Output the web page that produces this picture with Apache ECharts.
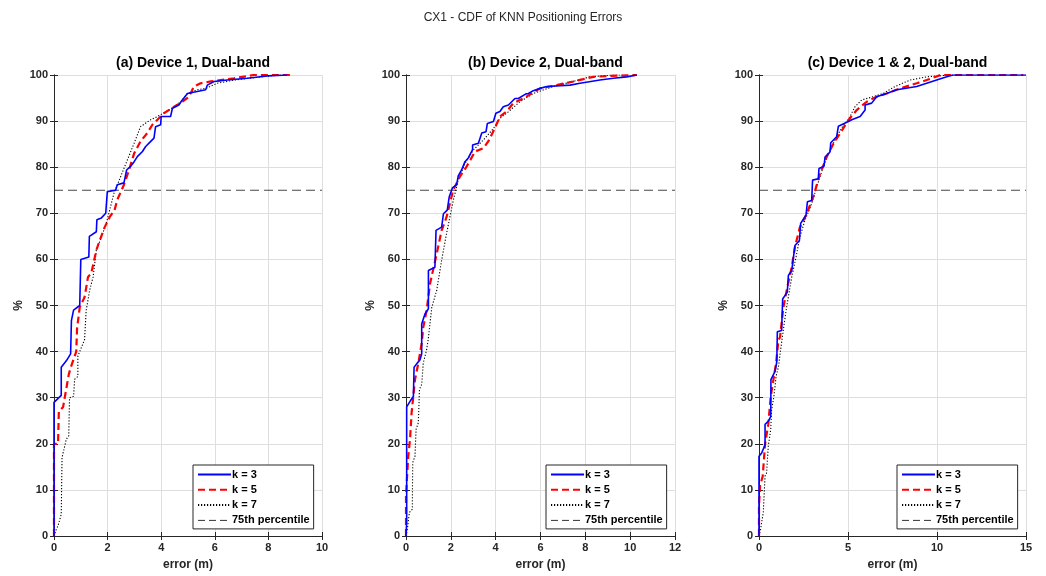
<!DOCTYPE html>
<html>
<head>
<meta charset="utf-8">
<script src="https://cdn.jsdelivr.net/npm/echarts@6/dist/echarts.min.js"></script>
<style>
  html, body { margin: 0; padding: 0; background: #fff; }
  #chart { width: 1046px; height: 576px; }
</style>
</head>
<body>
<div id="chart"></div>
<script>
// panel titles and axis ranges
const panelTitles = ['(a) Device 1, Dual-band', '(b) Device 2, Dual-band', '(c) Device 1 & 2, Dual-band'];
const xMaxes = [10, 12, 15];
const xSteps = [2, 2, 5];
const seriesNames = ['k = 3', 'k = 5', 'k = 7', '75th percentile'];
const pct75 = 75;

// (a) Device 1 - [error (m), %]
const aK3 = [[0,0],[0,29],[0.27,30.5],[0.27,36.6],[0.46,38],[0.62,39.5],[0.65,46.7],[0.73,49],[0.96,50],[1.0,60],[1.3,60.5],[1.32,65],[1.58,66],[1.6,68.6],[1.77,69],[1.93,70],[1.99,74.7],[2.3,75],[2.36,76.2],[2.61,76.6],[2.71,79.4],[2.86,80.2],[2.99,81.2],[3.11,82.3],[3.3,83.4],[3.42,84.5],[3.61,85.6],[3.73,86.3],[3.79,88.8],[3.98,89.2],[4.0,91],[4.35,91],[4.42,92.8],[4.66,93.5],[4.79,94.6],[4.98,96],[5.66,96.8],[5.72,97.8],[5.97,98.6],[6.47,98.9],[7.21,99.3],[7.96,99.8],[8.7,100]];
const aK5 = [[0,0],[0,20],[0.15,20],[0.18,27],[0.34,28],[0.4,30],[0.55,35],[0.62,36.5],[0.83,40],[0.86,45],[0.96,49.6],[1.14,51.8],[1.27,56.2],[1.39,57],[1.58,62],[1.7,64],[1.89,67],[2.08,69.2],[2.26,70.7],[2.36,72.9],[2.61,76.2],[2.8,79.4],[2.99,83],[3.23,85.6],[3.48,87.4],[3.67,89.2],[4.1,91.7],[4.48,93.1],[4.79,94.2],[5.04,95.3],[5.22,97.5],[5.47,98.2],[5.85,98.6],[6.72,99.3],[7.46,100],[8.9,100]];
const aK7 = [[0,0],[0.09,1.5],[0.15,2.2],[0.27,4.7],[0.3,17],[0.46,21],[0.55,21.7],[0.58,30],[0.73,30.3],[0.77,34],[0.89,34.6],[0.89,39],[1.14,42.6],[1.2,48.9],[1.33,53.3],[1.46,56.2],[1.58,62],[1.77,64.9],[1.95,67.8],[2.24,74.4],[2.49,78],[2.74,81.6],[2.99,85.2],[3.23,88.8],[3.61,90.3],[3.86,91],[4.29,92.4],[4.73,94.2],[4.98,96],[5.35,96.8],[5.66,97.1],[6.09,98.2],[6.72,98.9],[7.71,99.6],[8.46,100]];

// (b) Device 2
const bK3 = [[0,0],[0.03,3],[0.03,28],[0.18,29.2],[0.33,30.3],[0.36,36.6],[0.5,37.5],[0.62,38.2],[0.7,39.5],[0.7,46],[0.85,48.2],[1.0,49.3],[1.0,57.6],[1.29,58.3],[1.34,66.3],[1.59,67],[1.67,69.9],[1.84,70.7],[1.93,73.6],[2.07,75.5],[2.26,76.2],[2.33,78.1],[2.48,79.4],[2.63,81.2],[2.78,82],[2.97,83.8],[2.97,84.8],[3.23,85.2],[3.38,87.4],[3.57,87.7],[3.63,89.5],[3.9,89.9],[4.01,91.7],[4.19,92.1],[4.34,93.1],[4.57,93.5],[4.64,93.9],[4.86,94.9],[5.01,94.9],[5.35,95.9],[5.46,96],[5.68,96.6],[5.98,97.1],[6.28,97.5],[7.32,97.8],[7.76,98.2],[8.65,98.9],[9.25,99.3],[9.84,99.6],[10.3,100]];
const bK5 = [[0,0],[0,8.7],[0.1,17.3],[0.18,21],[0.25,26.7],[0.4,33.9],[0.55,37.5],[0.7,41.8],[0.77,45.3],[0.92,48.9],[1.07,54.7],[1.37,61.2],[1.59,66.3],[1.81,69.2],[1.99,72.8],[2.11,75.1],[2.41,78],[2.71,80.2],[3.08,83.4],[3.45,84.1],[3.67,85.6],[3.97,88.5],[4.19,91],[4.49,92.1],[4.79,93.9],[5.23,94.9],[5.98,97.1],[6.72,97.8],[7.46,98.6],[8.36,99.6],[9.1,99.8],[10.3,100]];
const bK7 = [[0,0],[0.06,1.5],[0.15,5.1],[0.28,5.8],[0.3,15.9],[0.4,17.3],[0.45,23.1],[0.55,24.6],[0.6,31.8],[0.7,32.9],[0.77,37.5],[0.92,40.4],[1.0,43],[1.15,49.6],[1.37,53.3],[1.59,59.8],[1.78,64.9],[1.93,68.5],[2.11,72.8],[2.33,77.2],[2.63,80.8],[3.0,83.7],[3.45,85.9],[3.9,88.4],[4.19,90.6],[4.56,92],[5.08,94.2],[5.68,96],[6.57,97.5],[7.46,98.6],[8.2,99.6],[9.25,100],[9.8,100]];

// (c) Device 1 & 2
const cK3 = [[0,0],[0,17.3],[0.15,18],[0.34,19.8],[0.34,24.2],[0.52,24.9],[0.66,25.9],[0.67,33.9],[0.9,35.7],[1.0,37.8],[1.03,44.3],[1.27,44.6],[1.33,51.4],[1.59,52.9],[1.65,56.5],[1.84,57.6],[2.02,63],[2.27,64.1],[2.34,67.8],[2.64,69.6],[2.72,72.5],[2.96,72.8],[3.01,77.2],[3.33,77.5],[3.37,79.7],[3.65,80.2],[3.71,82.2],[3.99,83.3],[4.03,85.3],[4.36,86.6],[4.46,88.9],[5.02,89.9],[5.21,90.3],[5.68,91],[5.96,92.4],[5.96,93.5],[6.33,93.9],[6.61,95.3],[7.17,96],[7.74,96.8],[8.86,97.5],[9.42,98.2],[9.98,98.9],[10.55,99.6],[10.9,100],[15,100]];
const cK5 = [[0,0],[0,6.6],[0.06,10.9],[0.21,13],[0.34,19.9],[0.52,24.2],[0.66,30.3],[0.81,33.9],[0.96,37.5],[1.09,42.5],[1.18,43.1],[1.37,49.6],[1.59,54],[1.84,58.3],[2.02,62.7],[2.3,67],[2.68,69.9],[3.05,73.6],[3.43,78.6],[3.8,82.2],[4.18,85.1],[4.55,87.3],[5.02,90.2],[5.49,92.4],[6.05,94.2],[6.61,95.3],[7.17,96],[7.92,97.1],[8.86,98.2],[9.42,98.9],[10.2,100],[14.85,100]];
const cK7 = [[0,0],[0.09,1.5],[0.24,5.1],[0.34,13],[0.43,13.7],[0.52,19.5],[0.66,23.1],[0.71,27.4],[0.84,30.3],[0.96,34.6],[1.09,36.7],[1.27,42],[1.52,48.9],[1.84,56.2],[2.08,60.5],[2.3,64.9],[2.58,68.5],[2.96,72.1],[3.24,75.7],[3.61,80.1],[3.99,83.7],[4.36,86.6],[4.74,89.1],[5.02,90.3],[5.39,93.1],[5.77,94.6],[6.42,95.3],[6.98,96],[7.64,97.5],[8.48,98.9],[9.42,99.6],[10.7,100],[11.5,100]];

const panelData = [[aK3, aK5, aK7], [bK3, bK5, bK7], [cK3, cK5, cK7]];

const chart = echarts.init(document.getElementById('chart'));

const axisColor = '#262626';
const fontFamily = "'Liberation Sans', Arial, Helvetica, sans-serif";
const gridLefts = [54, 406, 759];
const gridWidths = [268, 269, 267];
const gridTop = 75;
const gridHeight = 462;

const grids = [];
const xAxes = [];
const yAxes = [];
const series = [];
const titles = [{
  text: 'CX1 - CDF of KNN Positioning Errors',
  left: 'center',
  top: 7,
  textStyle: { fontSize: 12, fontWeight: 'normal', color: axisColor, fontFamily }
}];
const legends = [];

const lineStyles = [
  { color: '#0000ff', width: 1.6, type: 'solid' },
  { color: '#ff0000', width: 2.2, type: [7, 4] },
  { color: '#000000', width: 1.1, type: [1.2, 1.8] }
];
const pctLineStyle = { color: '#333333', width: 0.9, type: [9, 5] };

for (let g = 0; g < 3; g++) {
  grids.push({ left: gridLefts[g], top: gridTop, width: gridWidths[g], height: gridHeight });

  titles.push({
    text: panelTitles[g],
    left: gridLefts[g] + gridWidths[g] / 2,
    top: 51,
    textAlign: 'center',
    textStyle: { fontSize: 14, fontWeight: 'bold', color: '#000', fontFamily }
  });

  const xBase = {
    type: 'value', gridIndex: g, min: 0, max: xMaxes[g], interval: xSteps[g],
    axisLine: { lineStyle: { color: axisColor, width: 1 } },
    axisTick: { inside: true, length: 4, lineStyle: { color: axisColor } }
  };
  xAxes.push(Object.assign({}, xBase, {
    position: 'bottom',
    name: 'error (m)', nameLocation: 'middle', nameGap: 23,
    nameTextStyle: { fontSize: 12, fontWeight: 'bold', color: axisColor, fontFamily },
    axisLabel: { fontSize: 11, fontWeight: 'bold', color: axisColor, margin: 6, fontFamily },
    splitLine: { show: true, lineStyle: { color: '#dedede', width: 1 } }
  }));
  xAxes.push(Object.assign({}, xBase, {
    position: 'top', axisLabel: { show: false }, splitLine: { show: false }
  }));

  const yBase = {
    type: 'value', gridIndex: g, min: 0, max: 100, interval: 10,
    axisLine: { show: true, lineStyle: { color: axisColor, width: 1 } },
    axisTick: { show: true, inside: true, length: 4, lineStyle: { color: axisColor } }
  };
  yAxes.push(Object.assign({}, yBase, {
    position: 'left',
    name: '%', nameLocation: 'middle', nameGap: 29, nameRotate: 90,
    nameTextStyle: { fontSize: 12, fontWeight: 'bold', color: axisColor, fontFamily },
    axisLabel: { fontSize: 11, fontWeight: 'bold', color: axisColor, margin: 6, fontFamily },
    splitLine: { show: true, lineStyle: { color: '#dedede', width: 1 } }
  }));
  yAxes.push(Object.assign({}, yBase, {
    position: 'right', axisLabel: { show: false }, splitLine: { show: false }
  }));

  panelData[g].forEach((pts, i) => {
    series.push({
      name: seriesNames[i], type: 'line', xAxisIndex: 2 * g, yAxisIndex: 2 * g,
      data: pts, showSymbol: false, symbol: 'none', z: 5 - i,
      lineStyle: lineStyles[i], itemStyle: { color: lineStyles[i].color }
    });
  });
  series.push({
    name: seriesNames[3], type: 'line', xAxisIndex: 2 * g, yAxisIndex: 2 * g,
    data: [[0, pct75], [xMaxes[g], pct75]], showSymbol: false, symbol: 'none', z: 1,
    lineStyle: pctLineStyle,
    itemStyle: { color: '#333333' }
  });

  legends.push({
    data: [
      seriesNames[0], seriesNames[1], seriesNames[2],
      { name: seriesNames[3], lineStyle: { width: 1, color: '#333333', type: [7, 4] } }
    ],
    orient: 'vertical',
    left: gridLefts[g] + gridWidths[g] - 129,
    top: 465,
    width: 120,
    itemWidth: 33,
    itemHeight: 13,
    itemGap: 2.3,
    padding: [3, 4, 2, 4],
    backgroundColor: '#ffffff',
    borderColor: axisColor,
    borderWidth: 1,
    borderRadius: 0,
    selectedMode: false,
    itemStyle: { opacity: 0 },
    textStyle: { fontSize: 11, fontWeight: 'bold', color: '#000', fontFamily, lineHeight: 13, padding: [0, 0, 0, -4] }
  });
}

const option = {
  animation: false,
  backgroundColor: '#ffffff',
  title: titles,
  legend: legends,
  grid: grids,
  xAxis: xAxes,
  yAxis: yAxes,
  series: series
};

chart.setOption(option);

window.addEventListener('resize', () => chart.resize());
</script>
</body>
</html>
